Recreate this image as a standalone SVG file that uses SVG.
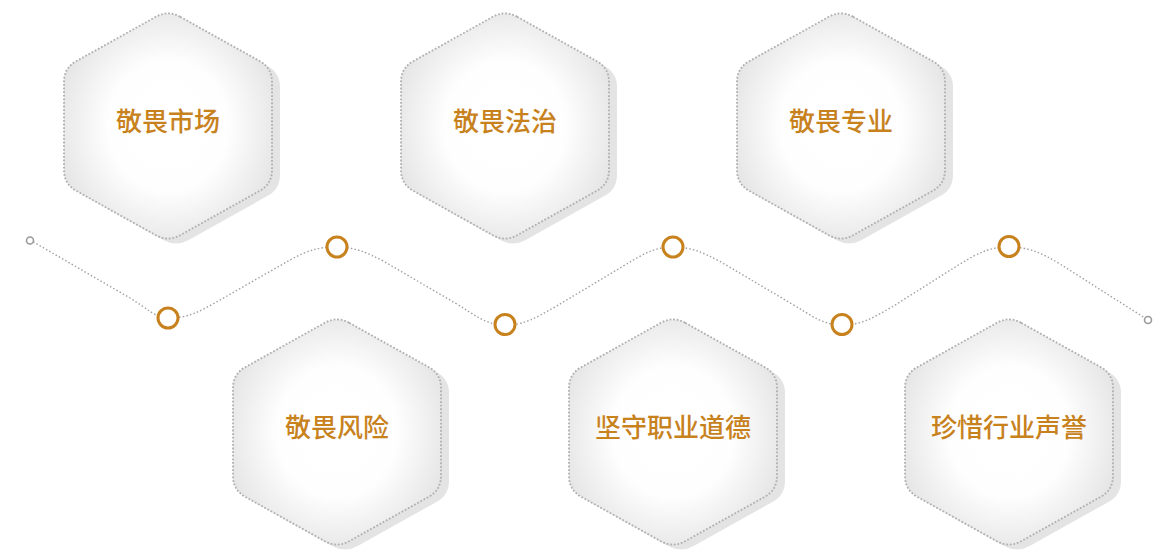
<svg xmlns="http://www.w3.org/2000/svg" xmlns:xlink="http://www.w3.org/1999/xlink" width="1170" height="554" viewBox="0 0 1170 554">
  <defs>
    <radialGradient id="hexFill" cx="50%" cy="50%" r="58%">
      <stop offset="0" stop-color="#ffffff"/>
      <stop offset="0.5" stop-color="#fefefe"/>
      <stop offset="1" stop-color="#e2e2e2"/>
    </radialGradient>
    <path id="hex" d="M 12.23,-109.18 L 91.77,-64.82 Q 104,-58 104,-44 L 104,44 Q 104,58 91.77,64.82 L 12.23,109.18 Q 0,116 -12.23,109.18 L -91.77,64.82 Q -104,58 -104,44 L -104,-44 Q -104,-58 -91.77,-64.82 L -12.23,-109.18 Q 0,-116 12.23,-109.18 Z"/>
  </defs>
  <style>
    .shadow { fill: #e4e4e4; }
    .hexbody { fill: url(#hexFill); stroke: #b0b0b0; stroke-width: 1.8; stroke-dasharray: 1.8 1.8; }
    .label { font-family: "Noto Sans CJK SC", "Noto Sans", sans-serif; font-size: 26px; font-weight: 500; fill: #c8821d; text-anchor: middle; }
    .curve { fill: none; stroke: #a0a0a0; stroke-width: 1.4; stroke-dasharray: 1.5 2.2; }
    .dot { fill: #ffffff; stroke: #c8821d; stroke-width: 3; }
    .end { fill: #ffffff; stroke: #9a9a9a; stroke-width: 1.6; }
  </style>
  <rect width="1170" height="554" fill="#ffffff"/>

  <g id="connectors">
    <path class="curve" d="M 30,240 L 130,298 C 148,309 156,318 168,318 C 190,318 200,311 220,300 L 290,260 C 310,249 320,247 337,247 C 354,247 366,252 385,262 L 455,303 C 474,314 485,325 505,325 C 525,325 535,318 555,307 L 625,265 C 645,253 655,247 673,247 C 691,247 702,252 721,262 L 792,304 C 811,315 822,325 842,325 C 862,325 872,318 892,307 L 960,264 C 980,252 990,247 1009,247 C 1028,247 1040,252 1060,264 L 1148,320"/>
    <circle class="end" cx="30" cy="240.5" r="3.5"/>
    <circle class="end" cx="1148" cy="320" r="3.5"/>
    <circle class="dot" cx="168" cy="318" r="10"/>
    <circle class="dot" cx="337" cy="247" r="10"/>
    <circle class="dot" cx="505" cy="324.5" r="10"/>
    <circle class="dot" cx="673" cy="247" r="10"/>
    <circle class="dot" cx="842" cy="324.5" r="10"/>
    <circle class="dot" cx="1009" cy="246.5" r="10"/>
  </g>

  <g id="node1" transform="translate(168,126)">
    <use xlink:href="#hex" href="#hex" class="shadow" transform="translate(8,5)"/>
    <use xlink:href="#hex" href="#hex" class="hexbody"/>
    <text class="label" x="0" y="5">敬畏市场</text>
  </g>
  <g id="node2" transform="translate(505,126)">
    <use xlink:href="#hex" href="#hex" class="shadow" transform="translate(8,5)"/>
    <use xlink:href="#hex" href="#hex" class="hexbody"/>
    <text class="label" x="0" y="5">敬畏法治</text>
  </g>
  <g id="node3" transform="translate(841,126)">
    <use xlink:href="#hex" href="#hex" class="shadow" transform="translate(8,5)"/>
    <use xlink:href="#hex" href="#hex" class="hexbody"/>
    <text class="label" x="0" y="5">敬畏专业</text>
  </g>
  <g id="node4" transform="translate(337,432)">
    <use xlink:href="#hex" href="#hex" class="shadow" transform="translate(8,5)"/>
    <use xlink:href="#hex" href="#hex" class="hexbody"/>
    <text class="label" x="0" y="5">敬畏风险</text>
  </g>
  <g id="node5" transform="translate(673,432)">
    <use xlink:href="#hex" href="#hex" class="shadow" transform="translate(8,5)"/>
    <use xlink:href="#hex" href="#hex" class="hexbody"/>
    <text class="label" x="0" y="5">坚守职业道德</text>
  </g>
  <g id="node6" transform="translate(1009,432)">
    <use xlink:href="#hex" href="#hex" class="shadow" transform="translate(8,5)"/>
    <use xlink:href="#hex" href="#hex" class="hexbody"/>
    <text class="label" x="0" y="5">珍惜行业声誉</text>
  </g>
</svg>
